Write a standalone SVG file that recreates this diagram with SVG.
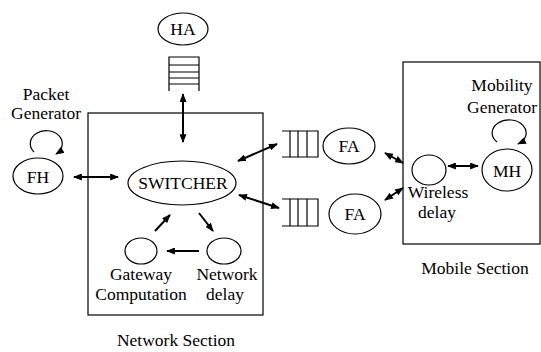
<svg xmlns="http://www.w3.org/2000/svg" width="541" height="352" viewBox="0 0 541 352">
<defs>
<marker id="ah" viewBox="0 0 10 8" markerUnits="userSpaceOnUse" markerWidth="9" markerHeight="7" refX="9" refY="4" orient="auto-start-reverse">
<path d="M0,0 L10,4 L0,8 z" fill="#000"/>
</marker>
<style>
.n{fill:#fff;stroke:#000;stroke-width:1.2}
.b{fill:none;stroke:#000;stroke-width:1.2}
.a{fill:none;stroke:#000;stroke-width:2;marker-end:url(#ah)}
.d{fill:none;stroke:#000;stroke-width:2;marker-start:url(#ah);marker-end:url(#ah)}
.l{fill:none;stroke:#000;stroke-width:1.2;marker-end:url(#ah)}
.q{fill:none;stroke:#000;stroke-width:1.2}
</style>
</defs>
<rect width="541" height="352" fill="#fff"/>
<g font-family="Liberation Serif, serif" font-size="17.5" text-anchor="middle" fill="#000">
<g id="network-section">
<rect class="b" x="88" y="113" width="175" height="202"/>
<text x="176" y="346">Network Section</text>
</g>
<g id="mobile-section">
<rect class="b" x="403" y="62" width="137" height="182"/>
<text x="475" y="274">Mobile Section</text>
</g>
<g id="HA">
<ellipse class="n" cx="183" cy="29" rx="25" ry="16"/>
<text x="183" y="35">HA</text>
</g>
<g id="HA-queue">
<path class="q" d="M169,91 V57 H199 V91 M169,65 H199 M169,72 H199 M169,78 H199 M169,84 H199"/>
</g>
<g id="FH">
<ellipse class="n" cx="38" cy="176" rx="25" ry="18"/>
<text x="38" y="183">FH</text>
<text x="46" y="100">Packet</text>
<text x="46" y="119">Generator</text>
</g>
<g id="SWITCHER">
<ellipse class="n" cx="182" cy="183" rx="54" ry="22"/>
<text x="183" y="189">SWITCHER</text>
</g>
<g id="gateway">
<ellipse class="n" cx="141" cy="251" rx="16" ry="13"/>
<text x="141" y="280">Gateway</text>
<text x="141" y="300">Computation</text>
</g>
<g id="network-delay">
<ellipse class="n" cx="224" cy="251" rx="17" ry="13"/>
<text x="227" y="280">Network</text>
<text x="225" y="300">delay</text>
</g>
<g id="FA-queue-1">
<path class="q" d="M282,131 H318 V157 H282 M290,131 V157 M298,131 V157 M307,131 V157"/>
</g>
<g id="FA-queue-2">
<path class="q" d="M282,199 H318 V226 H282 M290,199 V226 M298,199 V226 M307,199 V226"/>
</g>
<g id="FA-1">
<ellipse class="n" cx="349" cy="146" rx="26" ry="18"/>
<text x="349" y="152">FA</text>
</g>
<g id="FA-2">
<ellipse class="n" cx="355" cy="214" rx="26" ry="20"/>
<text x="355" y="220">FA</text>
</g>
<g id="wireless-delay">
<ellipse class="n" cx="429" cy="170" rx="17" ry="15"/>
<text x="438" y="198">Wireless</text>
<text x="437" y="218">delay</text>
</g>
<g id="MH">
<ellipse class="n" cx="507" cy="170" rx="25" ry="21"/>
<text x="507" y="177">MH</text>
<text x="502" y="91">Mobility</text>
<text x="502" y="113">Generator</text>
</g>
</g>
<g id="connectors">
<path class="d" d="M183,94 V142"/>
<path class="d" d="M74,177 H118"/>
<path class="d" d="M238,161 L277,144"/>
<path class="d" d="M239,195 L279,208"/>
<path class="d" d="M385,153 L403,163"/>
<path class="d" d="M385,200 L403,188"/>
<path class="d" d="M448,166 H478"/>
<path class="a" d="M155,231 L170,215"/>
<path class="a" d="M199,213 L213,231"/>
<path class="a" d="M199,251 L167,251"/>
<path class="l" d="M34,152 A16,13 0 1 1 56,154"/>
<path class="l" d="M497,142 A17,13 0 1 1 518,144"/>
</g>
</svg>
